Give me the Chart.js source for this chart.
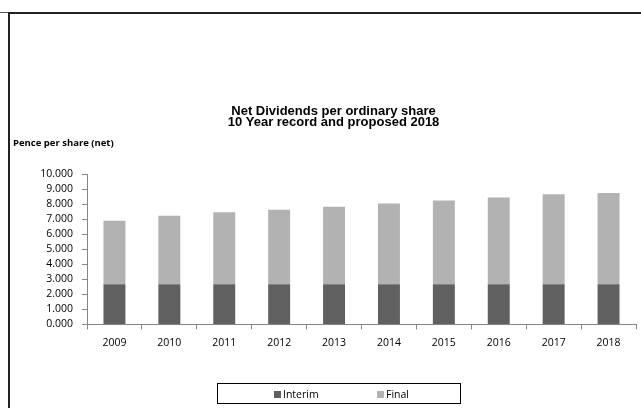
<!DOCTYPE html>
<html>
<head>
<meta charset="utf-8">
<script src="https://cdn.jsdelivr.net/npm/chart.js@4.4.0/dist/chart.umd.min.js"></script>
<style>
  html, body { margin: 0; padding: 0; background: #fff; }
  #wrap { position: relative; width: 641px; height: 408px; overflow: hidden; }
  #c { position: absolute; left: 0; top: 0; }
  .topline { position: absolute; left: 8px; top: 12px; width: 633px; height: 2px; background: #222; }
  .topline2 { position: absolute; left: 0; top: 12px; width: 8px; height: 1px; background: #555; }
  .leftline { position: absolute; left: 8px; top: 12px; width: 1.5px; height: 396px; background: #222; }
  #ylabel { position: absolute; left: 13px; top: 136px; font: bold 9.5px "Open Sans", sans-serif; color: #000; white-space: nowrap; }
  #legend { position: absolute; left: 217px; top: 383px; width: 244px; height: 21px; border: 1px solid #000; box-sizing: border-box;
            font: 10.5px "Open Sans", sans-serif; color: #000; }
  #legend .item { position: absolute; top: 3px; white-space: nowrap; line-height: 14px; }
  #legend .sw { display: inline-block; width: 7px; height: 7px; margin-right: 2px; vertical-align: 0px; }
</style>
</head>
<body>
<div id="wrap">
  <canvas id="c" width="641" height="408"></canvas>
  <div class="topline2"></div>
  <div class="topline"></div>
  <div class="leftline"></div>
  <div id="ylabel">Pence per share (net)</div>
  <div id="legend"></div>
</div>
<script>
const categories = ['2009','2010','2011','2012','2013','2014','2015','2016','2017','2018'];
const interimValues = [2.67, 2.67, 2.67, 2.67, 2.67, 2.67, 2.67, 2.67, 2.67, 2.67];
const finalValues   = [4.22, 4.55, 4.78, 4.95, 5.15, 5.37, 5.57, 5.77, 5.99, 6.06];
const seriesNames = ['Interim', 'Final'];
const seriesColors = ['#606060', '#b2b2b2'];
const titleLines = ['Net Dividends per ordinary share', '10 Year record and proposed 2018'];

const htmlLegend = {
  id: 'htmlLegend',
  afterUpdate(chart) {
    const box = document.getElementById('legend');
    box.innerHTML = '';
    const lefts = [56, 159];
    chart.data.datasets.forEach((ds, i) => {
      const it = document.createElement('span');
      it.className = 'item';
      it.style.left = lefts[i] + 'px';
      const sw = document.createElement('span');
      sw.className = 'sw';
      sw.style.background = ds.backgroundColor;
      it.appendChild(sw);
      it.appendChild(document.createTextNode(ds.label));
      box.appendChild(it);
    });
  }
};

new Chart(document.getElementById('c'), {
  type: 'bar',
  data: {
    labels: categories,
    datasets: [
      { label: seriesNames[0], data: interimValues, backgroundColor: seriesColors[0] },
      { label: seriesNames[1], data: finalValues, backgroundColor: seriesColors[1] }
    ]
  },
  options: {
    responsive: false,
    animation: false,
    devicePixelRatio: 1,
    layout: { padding: { left: 31, right: 5, top: 0, bottom: 52 } },
    datasets: { bar: { categoryPercentage: 0.5, barPercentage: 0.8 } },
    plugins: {
      legend: { display: false },
      tooltip: { enabled: false },
      title: {
        display: true,
        text: titleLines,
        color: '#000',
        font: { family: '"Liberation Sans", Arial, sans-serif', size: 13, weight: 'bold', lineHeight: 0.85 },
        padding: { top: 105.5, bottom: 46.4 }
      }
    },
    scales: {
      x: {
        stacked: true,
        offset: true,
        grid: { display: true, offset: true, drawOnChartArea: false, tickLength: 5, color: '#868686' },
        border: { color: '#868686' },
        ticks: { color: '#000', font: { family: '"Open Sans", sans-serif', size: 10.5 }, padding: 7, autoSkip: false, maxRotation: 0 }
      },
      y: {
        stacked: true,
        min: 0, max: 10,
        afterFit(scale) { scale.width = 56; },
        grid: { display: true, drawOnChartArea: false, tickLength: 5, color: '#868686' },
        border: { color: '#868686' },
        ticks: { stepSize: 1, autoSkip: false, color: '#000', padding: 9, font: { family: '"Open Sans", sans-serif', size: 10.5 },
                 callback: v => Number(v).toFixed(3) }
      }
    }
  },
  plugins: [htmlLegend]
});
</script>
</body>
</html>
